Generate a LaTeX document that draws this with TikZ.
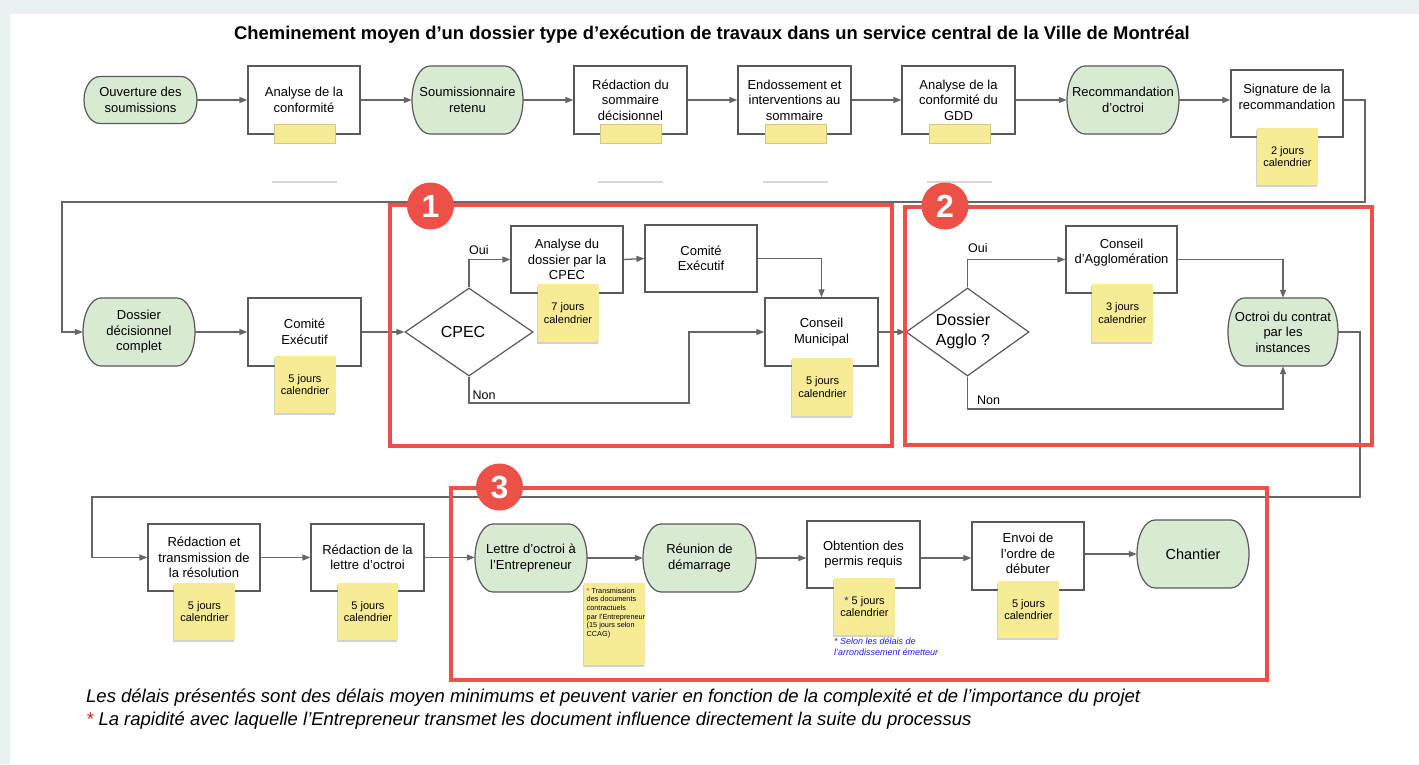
\documentclass[tikz,border=0pt]{standalone}
\usepackage{fontspec}
\setmainfont{Liberation Sans}
\usetikzlibrary{arrows.meta,shapes.geometric,shadows}
\definecolor{lgray}{RGB}{102,102,102}
\definecolor{bgray}{RGB}{89,89,89}
\definecolor{tgreen}{RGB}{217,234,211}
\definecolor{syellow}{RGB}{247,235,150}
\definecolor{fred}{RGB}{236,80,70}
\definecolor{bgband}{RGB}{234,241,242}
\definecolor{nblue}{RGB}{30,30,240}
\definecolor{ared}{RGB}{240,20,20}
\definecolor{shline}{RGB}{215,215,215}
\newcommand\myfs[2]{\fontsize{#1}{#2}\selectfont}
% terminal (stadium with elliptic ends): name, cx, cy, w, h, rx, text
\newcommand\term[7]{%
 \pgfmathsetmacro\TLx{#2-#4/2+#6}\pgfmathsetmacro\TRx{#2+#4/2-#6}%
 \pgfmathsetmacro\TTy{#3-#5/2}\pgfmathsetmacro\TBy{#3+#5/2}%
 \pgfmathsetmacro\TRy{#5/2}%
 \path[termshape] (\TLx,\TTy) -- (\TRx,\TTy)
   arc[start angle=90,end angle=-90,x radius=#6pt,y radius=\TRy pt]
   -- (\TLx,\TBy)
   arc[start angle=270,end angle=90,x radius=#6pt,y radius=\TRy pt] -- cycle;
 \node[termtext,minimum width=#4pt,minimum height=#5pt] (#1) at (#2,#3) {#7};}
\newcommand\bx[6]{\node[box,minimum width=#4pt,minimum height=#5pt] (#1) at (#2,#3) {#6};}
\begin{document}
\begin{tikzpicture}[x=1pt,y=-1pt,
 box/.style={draw=bgray,line width=1.2pt,fill=white,align=center,inner sep=0pt,font=\myfs{13}{15.5}},
 termshape/.style={draw=bgray,line width=1.2pt,fill=tgreen},
 termtext/.style={inner sep=0pt,align=center,font=\myfs{13}{15.5}},
 note/.style={fill=syellow,inner sep=0pt,minimum width=61pt,minimum height=57pt,align=center,font=\myfs{11}{12.5},
   drop shadow={shadow xshift=-1pt,shadow yshift=-1.5pt,opacity=0.35}},
 part/.style={fill=syellow,draw=syellow!85!black,line width=0.3pt},
 conn/.style={draw=lgray,line width=1.3pt,-{Triangle[length=8pt,width=6pt]}},
 frame/.style={draw=fred,line width=3.5pt},
 badge/.style={circle,fill=fred,minimum size=47pt,inner sep=0pt,text=white,font=\bfseries\myfs{32}{32}},
 dia/.style={diamond,draw=bgray,line width=1.2pt,fill=white,inner sep=0pt},
 lbl/.style={font=\myfs{12.5}{14},inner sep=0pt,anchor=base west},
 dtext/.style={font=\myfs{16}{20},inner sep=0pt,align=left},
]
\useasboundingbox (0,0) rectangle (1419,764);
% background card
\fill[bgband] (0,0) rectangle (1419,764);
\fill[white] (10,14) rectangle (1419,764);

% title
\node[font=\bfseries\myfs{18.4}{21},anchor=base,inner sep=0pt] (title) at (712,39)
  {Cheminement moyen d’un dossier type d’exécution de travaux dans un service central de la Ville de Montréal};

% ---------- row 1
\term{o1}{140.5}{100}{113}{47}{16}{Ouverture des\\soumissions}
\bx{a1}{304}{100}{112}{68}{Analyse de la\\conformité}
\term{s1}{467.5}{100}{111}{68}{18}{Soumissionnaire\\retenu}
\bx{r1}{630.5}{100}{113}{68}{Rédaction du\\sommaire\\décisionnel}
\bx{e1}{794.5}{100}{113}{68}{Endossement et\\interventions au\\sommaire}
\bx{g1}{958.5}{100}{113}{68}{Analyse de la\\conformité du\\GDD}
\term{rc}{1123}{100}{112}{68}{18}{Recommandation\\d’octroi}
\bx{sg}{1287}{103.5}{112}{67}{}
\node[termtext] (sgt) at (1287,97) {Signature de la\\recommandation};
\node[note] (nsg) at (1287.5,156.5) {2 jours\\calendrier};
% truncated notes of row 1
\foreach \px/\nm in {274/pa,600/pb,765/pc,929/pd}{
  \path[part] (\px,124) rectangle (\px+61,143);
  \draw[shline,line width=1.4pt] (\px-2,182) -- (\px+63,182);
}

% ---------- row 2
\term{dd}{139}{332}{112}{68}{18}{Dossier\\décisionnel\\complet}
\bx{ce}{304.5}{332}{113}{68}{Comité\\Exécutif}
\node[note] (nce) at (305,384.5) {5 jours\\calendrier};
\node[dia,minimum width=128pt,minimum height=88pt] (cpec) at (469,332) {};
\node[dtext] (cpect) at (463,332) {CPEC};
\bx{ad}{567}{259.5}{112}{67}{Analyse du\\dossier par la\\CPEC}
\node[note,minimum height=58pt] (nad) at (568,313) {7 jours\\calendrier};
\bx{ce2}{701}{258.5}{112}{67}{Comité\\Exécutif}
\bx{cm}{821.5}{332}{113}{68}{Conseil\\Municipal}
\node[note,minimum height=58pt] (ncm) at (822.5,387) {5 jours\\calendrier};
\node[dia,minimum width=123pt,minimum height=88pt] (agg) at (967.5,332) {};
\node[dtext] (aggt) at (963,331) {Dossier\\Agglo ?};
\bx{ca}{1121.5}{259.5}{111}{67}{}
\node[termtext] (cat) at (1121.5,252.5) {Conseil\\d’Agglomération};
\node[note,minimum height=58pt] (nca) at (1122.5,313) {3 jours\\calendrier};
\term{oc}{1283}{332}{110}{68}{16}{Octroi du contrat\\par les\\instances}

% ---------- row 3
\bx{rt}{204}{557.5}{112}{67}{Rédaction et\\transmission de\\la résolution}
\node[note] (nrt) at (204.5,611.5) {5 jours\\calendrier};
\bx{rl}{367.5}{557.5}{113}{67}{Rédaction de la\\lettre d’octroi}
\node[note,minimum width=60pt] (nrl) at (368,611.5) {5 jours\\calendrier};
\term{lo}{531}{558}{112}{68}{18}{Lettre d’octroi à\\l’Entrepreneur}
\term{ru}{699.5}{558}{113}{68}{18}{Réunion de\\démarrage}
\node[note,minimum height=82pt] (nlo) at (614.5,624) {};
\node[font=\myfs{7.3}{8.7},align=left,inner sep=0pt,anchor=north west] (nlot) at (586.5,587.5)
  {\textcolor{ared}{*} Transmission\\des documents\\contractuels\\par l’Entrepreneur\\(15 jours selon\\CCAG)};
\bx{ob}{863.5}{554.5}{113}{67}{Obtention des\\permis requis}
\node[note] (nob) at (864.5,606.5) {\textcolor{nblue}{*} 5 jours\\calendrier};
\node[font=\itshape\myfs{9}{11},text=nblue,align=left,inner sep=0pt,anchor=north west] (nobt) at (834,637.5)
  {* Selon les délais de\\l’arrondissement émetteur};
\bx{en}{1028}{556}{112}{68}{}
\node[termtext] (ent) at (1028,553.5) {Envoi de\\l’ordre de\\débuter};
\node[note] (nen) at (1028.5,609.5) {5 jours\\calendrier};
\term{ch}{1193}{554}{112}{68}{18}{{\myfs{14.5}{17}Chantier}}

% ---------- connectors
\draw[conn] (o1.east) -- (a1.west);
\draw[conn] (a1.east) -- (s1.west);
\draw[conn] (s1.east) -- (r1.west);
\draw[conn] (r1.east) -- (e1.west);
\draw[conn] (e1.east) -- (g1.west);
\draw[conn] (g1.east) -- (rc.west);
\draw[conn] (rc.east) -- (rc.east -| sg.west);
\coordinate (k1) at (1365,202);
\coordinate (k2) at (62,202);
\draw[conn] (sg.east |- rc.east) -| (k1) -- (k2) |- (dd.west);
\draw[conn] (dd.east) -- (ce.west);
\draw[conn] (ce.east) -- (cpec.west);
\draw[conn] (cpec.north) |- (ad.west);
\draw[conn] (ad.east) -- (ce2.west);
\draw[conn] (ce2.east) -| (cm.north);
\coordinate (n1) at (689,403);
\draw[conn] (cpec.south) |- (n1) |- (cm.west);
\draw[conn] (cm.east) -- (agg.west);
\draw[conn] (agg.north) |- (ca.west);
\draw[conn] (ca.east) -| (oc.north);
\coordinate (n2) at (1283,409);
\draw[conn] (agg.south) |- (n2) -- (oc.south);
\coordinate (k3) at (1360,497);
\coordinate (k4) at (92,497);
\draw[conn] (oc.east) -| (k3) -- (k4) |- (rt.west);
\draw[conn] (rt.east) -- (rl.west);
\draw[conn] (rl.east) -- (rl.east -| lo.west);
\draw[conn] (lo.east) -- (ru.west);
\draw[conn] (ru.east) -- (ru.east -| ob.west);
\draw[conn] (ob.east |- ru.east) -- (ru.east -| en.west);
\draw[conn] (en.east |- ch.west) -- (ch.west);

% branch labels
\node[lbl] (oui1) at (469,254) {Oui};
\node[lbl] (non1) at (472.5,399) {Non};
\node[lbl] (oui2) at (968,252.5) {Oui};
\node[lbl] (non2) at (977,404) {Non};

% ---------- frames and badges
\draw[frame] (390,205) rectangle (892,446);
\draw[frame] (905,207) rectangle (1372,445);
\draw[frame] (451,488) rectangle (1267,680);
\node[badge] (b1) at (430.5,206) {1};
\node[badge] (b2) at (945,206) {2};
\node[badge] (b3) at (499.5,487) {3};

% ---------- footnotes
\node[anchor=base west,font=\itshape\myfs{18.5}{22},inner sep=0pt] (foot1) at (86,702)
  {Les délais présentés sont des délais moyen minimums et peuvent varier en fonction de la complexité et de l’importance du projet};
\node[anchor=base west,font=\itshape\myfs{18.5}{22},inner sep=0pt] (foot2) at (86,725)
  {\textcolor{ared}{*} La rapidité avec laquelle l’Entrepreneur transmet les document influence directement la suite du processus};
\end{tikzpicture}
\end{document}
